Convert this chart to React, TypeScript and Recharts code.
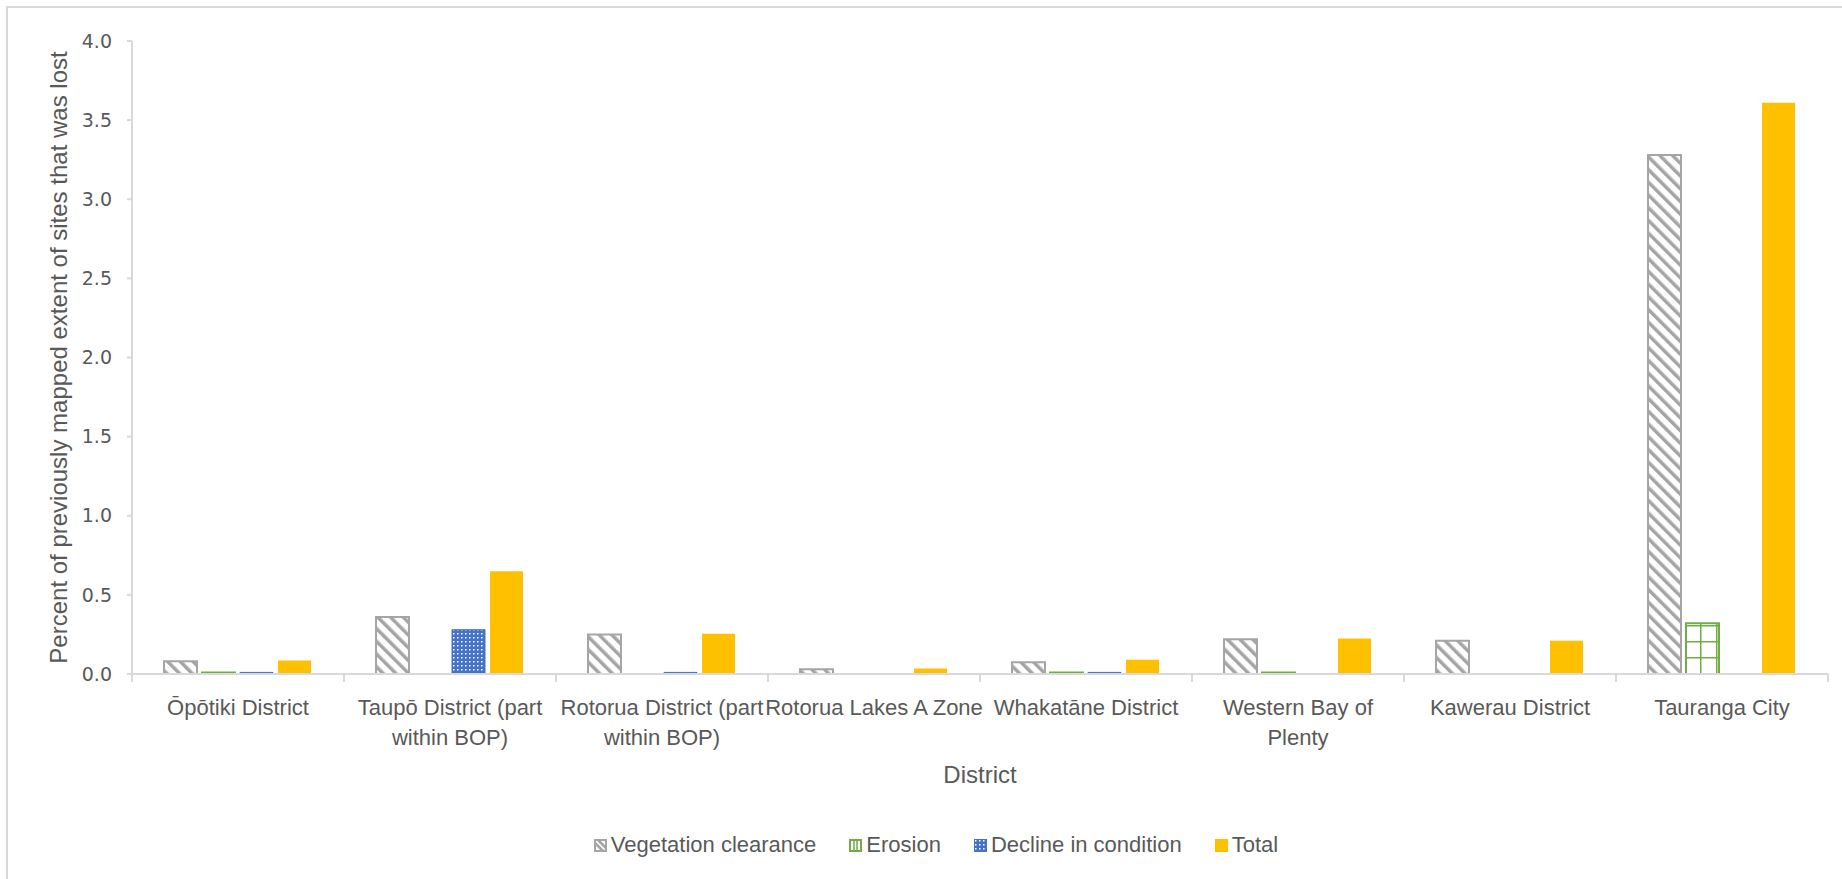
import { BarChart, Bar, XAxis, YAxis } from "recharts";

// districts (line breaks follow the wrapped tick labels)
const districts = [
  "Ōpōtiki District",
  "Taupō District (part\nwithin BOP)",
  "Rotorua District (part\nwithin BOP)",
  "Rotorua Lakes A Zone",
  "Whakatāne District",
  "Western Bay of\nPlenty",
  "Kawerau District",
  "Tauranga City",
];
const vegetationClearance = [0.08, 0.36, 0.25, 0.03, 0.075, 0.22, 0.21, 3.28];
const erosion = [0.01, null, null, null, 0.01, 0.01, null, 0.32];
const declineInCondition = [0.01, 0.28, 0.01, null, 0.01, null, null, null];
const total = [0.085, 0.65, 0.255, 0.035, 0.09, 0.225, 0.21, 3.61];
const yTicks = [0, 0.5, 1, 1.5, 2, 2.5, 3, 3.5, 4];

const seriesNames = ["Vegetation clearance", "Erosion", "Decline in condition", "Total"];

const W = 1842;
const H = 879;
const MARGIN = { top: 41, right: 14, left: 0, bottom: 90 };
const Y_AXIS_W = 132;
const X_AXIS_H = 115;
const PLOT_W = W - MARGIN.left - MARGIN.right - Y_AXIS_W;
const PLOT_BOTTOM = H - MARGIN.bottom - X_AXIS_H;
const CAT_W = PLOT_W / districts.length;

const AXIS = "#D9D9D9";
const TEXT = "#595959";
const FONT = "'Liberation Sans', Arial, sans-serif";

const data = districts.map((name, i) => ({
  name,
  veg: vegetationClearance[i],
  erosion: erosion[i],
  decline: declineInCondition[i],
  total: total[i],
}));

function CategoryTick(props: any) {
  const { x, payload, index } = props;
  const lines = String(payload.value).split("\n");
  const y = PLOT_BOTTOM;
  return (
    <g>
      <line x1={x - CAT_W / 2} x2={x - CAT_W / 2} y1={y} y2={y + 8} stroke={AXIS} strokeWidth={2} />
      {index === districts.length - 1 && (
        <line x1={x + CAT_W / 2} x2={x + CAT_W / 2} y1={y} y2={y + 8} stroke={AXIS} strokeWidth={2} />
      )}
      <text x={x} y={y} textAnchor="middle" fill={TEXT} fontSize={22} fontFamily={FONT}>
        {lines.map((l, i) => (
          <tspan key={i} x={x} dy={i === 0 ? 41 : 30}>
            {l}
          </tspan>
        ))}
      </text>
    </g>
  );
}

function LegendIcon({ kind }: { kind: number }) {
  return (
    <svg width={13} height={13} style={{ display: "block" }}>
      {kind === 0 && (
        <>
          <rect x={1} y={1} width={11} height={11} fill="#fff" stroke="#A5A5A5" strokeWidth={2} />
          <path d="M1 4 L9 12 M4 1 L12 9" stroke="#A5A5A5" strokeWidth={2.5} />
        </>
      )}
      {kind === 1 && (
        <>
          <rect x={1} y={1} width={11} height={11} fill="#fff" stroke="#70AD47" strokeWidth={2} />
          <path d="M5 1 V12 M8 1 V12" stroke="#70AD47" strokeWidth={1.5} />
        </>
      )}
      {kind === 2 && <rect x={0.5} y={0.5} width={12} height={12} fill="url(#declineDots)" stroke="#4472C4" />}
      {kind === 3 && <rect x={0} y={0} width={13} height={13} fill="#FFC000" />}
    </svg>
  );
}

export default function App() {
  return (
    <div
      style={{
        position: "absolute",
        left: 0,
        top: 0,
        width: W,
        height: H,
        overflow: "hidden",
        background: "#fff",
      }}
    >
      <div
        style={{
          position: "absolute",
          left: 6,
          top: 6,
          width: 1860,
          height: 900,
          border: `2px solid ${AXIS}`,
        }}
      />
      <div style={{ position: "absolute", left: 0, top: 0 }}>
        <BarChart
          width={W}
          height={H}
          data={data}
          margin={MARGIN}
          barCategoryGap={32}
          barGap={5}
        >
          <defs>
            <pattern
              id="vegHatch"
              patternUnits="userSpaceOnUse"
              width={9}
              height={9}
              patternTransform="rotate(-45)"
            >
              <rect width={9} height={9} fill="#fff" />
              <rect x={0} y={0} width={3.5} height={9} fill="#A5A5A5" />
            </pattern>
            <pattern
              id="erosionGrid"
              patternUnits="userSpaceOnUse"
              width={16}
              height={16}
              patternTransform="translate(4 1)"
            >
              <rect width={16} height={16} fill="#fff" />
              <path d="M0 0 H16 M0 0 V16" stroke="#70AD47" strokeWidth={3} />
            </pattern>
            <pattern id="declineDots" patternUnits="userSpaceOnUse" width={4} height={4}>
              <rect width={4} height={4} fill="#4472C4" />
              <rect x={1} y={1} width={1.5} height={1.5} fill="#fff" />
            </pattern>
          </defs>
          <XAxis
            dataKey="name"
            height={X_AXIS_H}
            stroke={AXIS}
            strokeWidth={2}
            tickLine={false}
            tickSize={8}
            tickMargin={0}
            interval={0}
            tick={<CategoryTick />}
            label={{
              value: "District",
              position: "insideBottom",
              offset: 6,
              fill: TEXT,
              fontSize: 24,
              fontFamily: FONT,
            }}
          />
          <YAxis
            width={Y_AXIS_W}
            domain={[0, 4]}
            ticks={yTicks}
            interval={0}
            tickFormatter={(v: number) => v.toFixed(1)}
            stroke={AXIS}
            strokeWidth={2}
            tickSize={5}
            tickMargin={15}
            tick={{ fill: TEXT, fontSize: 19, fontFamily: "'DejaVu Sans', sans-serif" }}
            label={{
              value: "Percent of previously mapped extent of sites that was lost",
              angle: -90,
              position: "insideLeft",
              offset: 58,
              fill: TEXT,
              fontSize: 24,
              fontFamily: FONT,
              style: { textAnchor: "middle" },
            }}
          />
          <Bar
            dataKey="veg"
            name={seriesNames[0]}
            fill="url(#vegHatch)"
            stroke="#A5A5A5"
            strokeWidth={2}
            isAnimationActive={false}
          />
          <Bar
            dataKey="erosion"
            name={seriesNames[1]}
            fill="url(#erosionGrid)"
            stroke="#70AD47"
            strokeWidth={2}
            isAnimationActive={false}
          />
          <Bar
            dataKey="decline"
            name={seriesNames[2]}
            fill="url(#declineDots)"
            stroke="#4472C4"
            strokeWidth={1}
            isAnimationActive={false}
          />
          <Bar dataKey="total" name={seriesNames[3]} fill="#FFC000" isAnimationActive={false} />
        </BarChart>
      </div>
      <div
        style={{
          position: "absolute",
          left: 0,
          width: 1872,
          top: 830,
          height: 30,
          display: "flex",
          justifyContent: "center",
          alignItems: "center",
          gap: 33,
          fontFamily: FONT,
          fontSize: 22,
          color: TEXT,
        }}
      >
        {seriesNames.map((n, i) => (
          <div key={n} style={{ display: "flex", alignItems: "center", gap: 4 }}>
            <LegendIcon kind={i} />
            <span>{n}</span>
          </div>
        ))}
      </div>
    </div>
  );
}
